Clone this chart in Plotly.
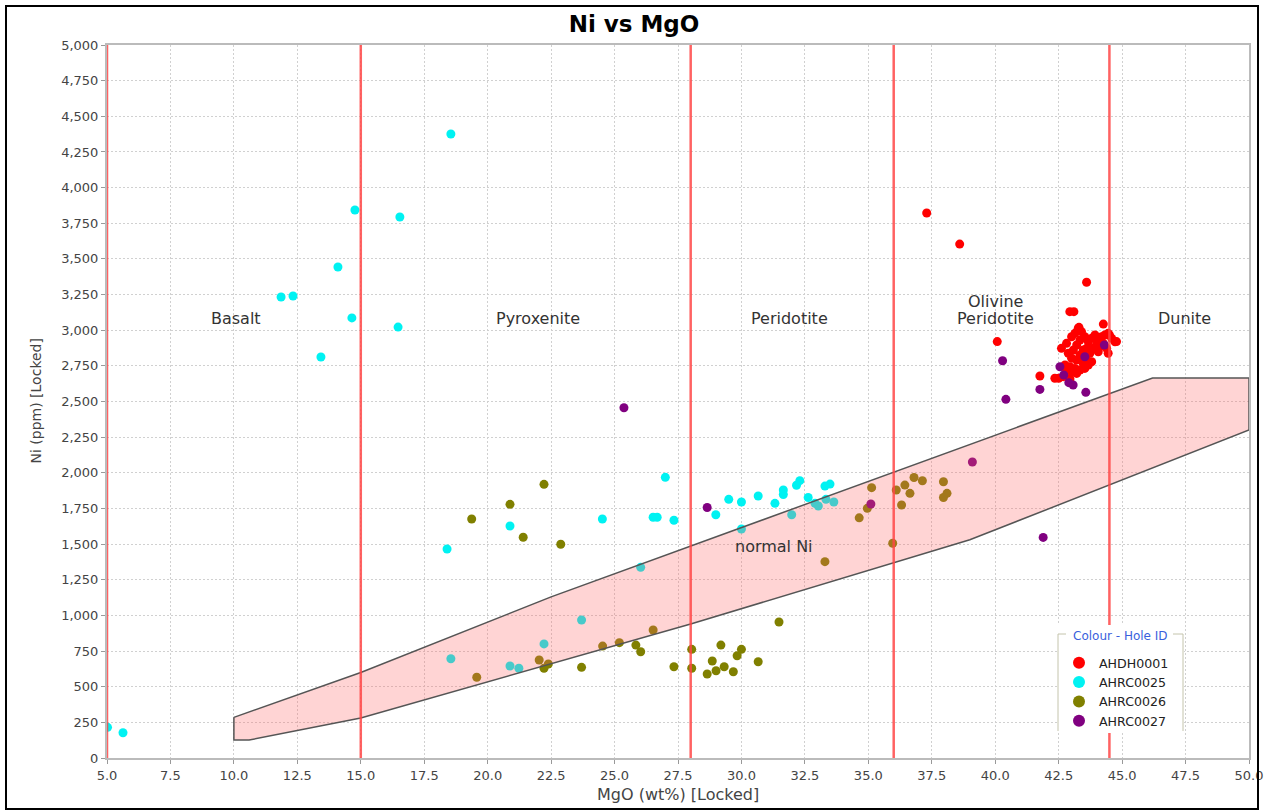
import plotly.graph_objects as go

# ---------------- data ----------------
# AHDH0001 (red)
ahdh0001_mgo = [37.3, 38.6, 43.6, 42.94, 43.1, 44.26, 43.3, 44.78, 44.5, 40.08, 41.76, 42.35, 42.5, 42.94,
                42.61, 42.81, 43.01, 43.14, 43.27, 43.40, 42.88, 43.08, 43.21, 43.34, 43.53, 43.67, 43.80,
                43.93, 44.06, 44.19, 44.32, 44.45, 44.59, 44.72, 43.47, 43.60, 43.73, 43.86, 43.99, 44.12,
                44.26, 44.39, 44.45, 43.01, 43.21, 43.40, 43.60, 43.80, 42.75, 42.94, 43.14, 43.34, 43.53,
                43.67, 42.68, 42.94, 43.21, 43.47, 43.01, 42.81, 44.06, 43.34]
ahdh0001_ni = [3822, 3604, 3336, 3130, 3130, 3043, 3020, 2920, 2966, 2920, 2679, 2663, 2663, 2651,
               2873, 2908, 2954, 2978, 3013, 2990, 2838, 2861, 2896, 2931, 2954, 2919, 2943,
               2966, 2931, 2954, 2966, 2978, 2943, 2919, 2861, 2873, 2838, 2873, 2896, 2884,
               2908, 2873, 2838, 2803, 2791, 2803, 2791, 2779, 2756, 2744, 2732, 2721, 2732,
               2756, 2674, 2662, 2697, 2767, 2709, 2721, 2849, 2826]

# AHRC0025 (cyan)
ahrc0025_mgo = [5.02, 5.63, 11.86, 12.33, 13.43, 14.10, 14.65, 14.77, 16.47, 16.54, 18.55, 18.40, 18.55,
                20.88, 20.88, 21.23, 22.22, 23.70, 24.52, 26.03, 27.00, 26.52, 26.68, 27.34, 28.99,
                29.50, 30.00, 30.00, 30.66, 31.32, 31.65, 31.65, 31.98, 32.17, 32.30, 32.63, 32.90,
                33.03, 33.29, 33.49, 33.33, 33.64]
ahrc0025_ni = [215, 177, 3233, 3240, 2812, 3443, 3086, 3843, 3022, 3794, 4376, 1466, 696,
               1627, 645, 629, 800, 968, 1676, 1337, 1968, 1688, 1688, 1667, 1706,
               1814, 1795, 1606, 1837, 1786, 1879, 1848, 1706, 1913, 1945, 1827, 1786,
               1767, 1907, 1921, 1814, 1795]

# AHRC0026 (olive)
ahrc0026_mgo = [19.37, 20.88, 21.40, 22.22, 22.88, 19.57, 22.03, 22.39, 22.22, 23.70, 24.53, 25.19,
                25.84, 26.03, 26.52, 27.34, 28.04, 28.04, 28.65, 28.85, 29.00, 29.19, 29.32, 29.68,
                29.83, 30.00, 30.66, 31.48, 33.29, 35.13, 34.96, 34.64, 35.96, 36.10, 36.31, 36.44,
                36.64, 36.80, 37.13, 37.96, 37.96, 38.10]
ahrc0026_ni = [1676, 1779, 1548, 1919, 1499, 566, 687, 659, 629, 636, 785, 809,
               792, 745, 898, 640, 762, 629, 589, 680, 612, 792, 640, 605,
               717, 762, 675, 954, 1377, 1896, 1751, 1684, 1506, 1879, 1774, 1914,
               1856, 1967, 1944, 1937, 1827, 1856]

# AHRC0027 (purple)
ahrc0027_mgo = [25.37, 28.65, 35.10, 39.10, 41.89, 40.42, 41.76, 43.57, 42.90, 43.07, 40.29, 42.55,
                42.70, 43.53, 44.30]
ahrc0027_ni = [2456, 1757, 1781, 2076, 1547, 2515, 2585, 2564, 2632, 2616, 2786, 2744,
               2686, 2814, 2896]

# "normal Ni" field outline
field_mgo = [10.0, 15.0, 22.5, 46.2, 50.0, 50.0, 39.0, 28.0, 15.0, 10.6, 10.0, 10.0]
field_ni = [285, 600, 1130, 2665, 2665, 2300, 1530, 940, 280, 126, 126, 285]

# rock-type boundaries (MgO wt%)
boundaries = [5.0, 15.0, 28.0, 36.0, 44.5]

# rock-type labels
label_text = ["Basalt", "Pyroxenite", "Peridotite", "Olivine", "Peridotite", "Dunite", "normal Ni"]
label_mgo = [10.1, 22.0, 31.9, 40.0, 40.0, 47.45, 31.3]
label_ni = [3080, 3080, 3080, 3200, 3080, 3080, 1480]

x_ticks = [5.0 + 2.5 * i for i in range(19)]
y_ticks = [250 * i for i in range(21)]

FONT = "DejaVu Sans"

# ---------------- figure ----------------
fig = go.Figure()

series = [
    ("AHDH0001", ahdh0001_mgo, ahdh0001_ni, "#ff0000"),
    ("AHRC0025", ahrc0025_mgo, ahrc0025_ni, "#00f2f2"),
    ("AHRC0026", ahrc0026_mgo, ahrc0026_ni, "#808000"),
    ("AHRC0027", ahrc0027_mgo, ahrc0027_ni, "#800080"),
]
for name, xs, ys, col in series:
    fig.add_trace(go.Scatter(x=xs, y=ys, mode="markers", name=name,
                             marker=dict(color=col, size=9, line=dict(width=0))))

fig.add_trace(go.Scatter(x=field_mgo, y=field_ni, mode="lines", fill="toself",
                         fillcolor="rgba(255,100,100,0.28)",
                         line=dict(color="#555555", width=1.5),
                         showlegend=False, hoverinfo="skip"))

for b in boundaries:
    fig.add_shape(type="line", x0=b, x1=b, y0=0, y1=5000, xref="x", yref="y",
                  line=dict(color="rgba(255,70,70,0.85)", width=2.5), layer="above")

for t, xv, yv in zip(label_text, label_mgo, label_ni):
    fig.add_annotation(x=xv, y=yv, text=t, showarrow=False, xanchor="center",
                       font=dict(family=FONT, size=16, color="#333333"), yanchor="middle")

# pixel -> paper helpers for decorations (plot area spans px 107..1249, 45..758)
def px(xp):
    return (xp - 107) / 1142.0

def py(yp):
    return (758 - yp) / 713.0

# legend box (white panel with open-topped border)
fig.add_shape(type="rect", xref="paper", yref="paper", x0=px(1058), x1=px(1184),
              y0=py(733), y1=py(625), fillcolor="white", line=dict(width=0), layer="above")
for (xa, ya, xb, yb) in [(1058, 634, 1058, 731), (1183, 634, 1183, 731),
                         (1058, 634, 1066, 634), (1173, 634, 1183, 634)]:
    fig.add_shape(type="line", xref="paper", yref="paper", x0=px(xa), y0=py(ya),
                  x1=px(xb), y1=py(yb), line=dict(color="#c4c4ac", width=1), layer="above")
fig.add_annotation(xref="paper", yref="paper", x=px(1120), y=py(636),
                   xanchor="center", yanchor="middle",
                   text="Colour - Hole ID", showarrow=False,
                   font=dict(family=FONT, size=12, color="#3a5fdd"))

# outer frame
fig.add_shape(type="rect", xref="paper", yref="paper",
              x0=px(6), x1=px(1258), y0=py(809), y1=py(6),
              line=dict(color="black", width=2), layer="above")

# axis titles
fig.add_annotation(xref="paper", yref="paper", x=0.5, y=py(795),
                   xanchor="center", yanchor="middle",
                   text="MgO (wt%) [Locked]", showarrow=False,
                   font=dict(family=FONT, size=16, color="#444444"))
fig.add_annotation(xref="paper", yref="paper", x=px(35), y=0.5,
                   xanchor="center", yanchor="middle",
                   text="Ni (ppm) [Locked]", textangle=-90, showarrow=False,
                   font=dict(family=FONT, size=14, color="#444444"))

axis_common = dict(showgrid=True, gridcolor="#d0d0d0", griddash="2px,2px", gridwidth=1,
                   showline=True, linecolor="#bbbbbb", linewidth=2, mirror=True,
                   ticks="outside", ticklen=4, tickcolor="#999999",
                   tickfont=dict(family=FONT, size=13, color="#444444"),
                   zeroline=False, automargin=False)

fig.update_layout(
    width=1264, height=811,
    margin=dict(l=107, r=15, t=45, b=53),
    paper_bgcolor="white", plot_bgcolor="white",
    title=dict(text="<b>Ni vs MgO</b>", x=0.5016, xref="container", y=0.9704,
               yref="container", yanchor="middle", xanchor="center",
               font=dict(family=FONT, size=23, color="black")),
    xaxis=dict(range=[5, 50], tickvals=x_ticks, tickformat=".1f", **axis_common),
    yaxis=dict(range=[0, 5000], tickvals=y_ticks, tickformat=",", **axis_common),
    legend=dict(x=px(1059), y=py(648), xanchor="left", yanchor="top",
                bgcolor="rgba(0,0,0,0)", borderwidth=0,
                font=dict(family=FONT, size=12.6, color="#222222"),
                itemsizing="constant", tracegroupgap=0),
    showlegend=True,
)

fig.write_html("out.html", config={"displayModeBar": False},
               post_script="document.body.style.margin='0';document.body.style.overflow='hidden';")
